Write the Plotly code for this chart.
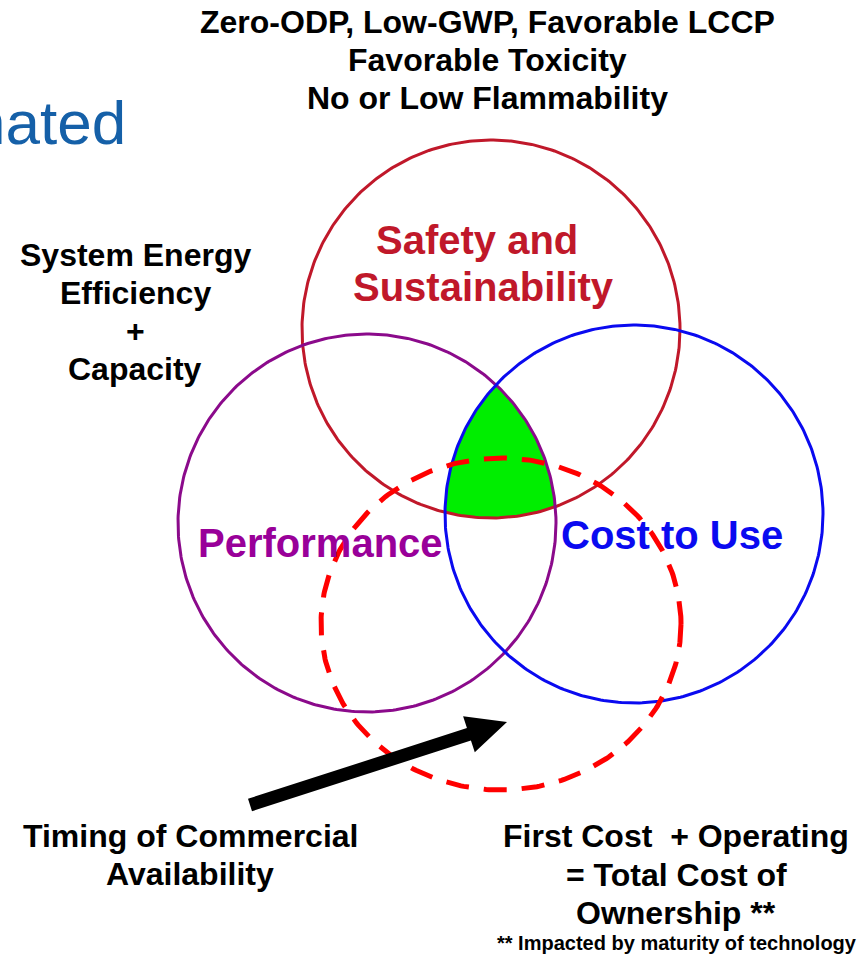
import numpy as np
import plotly.graph_objects as go

# ---- data ----
circle_names = ["Safety and Sustainability", "Performance", "Cost to Use"]
circle_cx = [491, 367, 634]
circle_cy = [329, 523, 514]
circle_r = [189, 189, 189]
circle_colors = ["#C0182A", "#8B0A8B", "#0A0AF0"]

timing_cx, timing_cy = 501, 624
timing_rx, timing_ry = 180, 166

arrow_tail = (250, 805)
arrow_tip = (507, 722)

top_lines = ["Zero-ODP, Low-GWP, Favorable LCCP", "Favorable Toxicity", "No or Low Flammability"]
left_lines = ["System Energy", "Efficiency", "+", "Capacity"]
timing_lines = ["Timing of Commercial", "Availability"]
cost_lines = ["First Cost  + Operating", "= Total Cost of", "Ownership **"]
footnote = "** Impacted by maturity of technology"
header_fragment = "nated"

W, H = 864, 956
fig = go.Figure()

# ---- green intersection region (intersection of three circles) ----
P = np.array([500.0, 460.0])
angs = np.linspace(0, 2 * np.pi, 721)
pts = []
for a in angs:
    u = np.array([np.cos(a), np.sin(a)])
    tmin = 1e9
    for cx, cy, r in zip(circle_cx, circle_cy, circle_r):
        d = P - np.array([cx, cy])
        b = u @ d
        c = d @ d - r * r
        tt = -b + np.sqrt(b * b - c)
        tmin = min(tmin, tt)
    pts.append(P + tmin * u)
pts = np.array(pts)
fig.add_trace(go.Scatter(x=pts[:, 0], y=pts[:, 1], mode="lines", fill="toself",
                         fillcolor="#00EE00", line=dict(width=0, color="#00EE00"),
                         hoverinfo="skip", showlegend=False))

# ---- circles ----
t = np.linspace(0, 2 * np.pi, 400)
for cx, cy, r, col in zip(circle_cx, circle_cy, circle_r, circle_colors):
    fig.add_trace(go.Scatter(x=cx + r * np.cos(t), y=cy + r * np.sin(t), mode="lines",
                             line=dict(color=col, width=3), hoverinfo="skip", showlegend=False))

# dashed timing ellipse
fig.add_trace(go.Scatter(x=timing_cx + timing_rx * np.cos(t), y=timing_cy + timing_ry * np.sin(t),
                         mode="lines", line=dict(color="#FF0000", width=5, dash="23px,15px"),
                         hoverinfo="skip", showlegend=False))

# ---- arrow polygon ----
tail = np.array(arrow_tail, float)
tip = np.array(arrow_tip, float)
v = tip - tail
u = v / np.linalg.norm(v)
n = np.array([-u[1], u[0]])
shaft_w, head_len, head_w = 13, 40, 38
base = tip - head_len * u
poly = np.array([tail + n * shaft_w / 2, base + n * shaft_w / 2, base + n * head_w / 2, tip,
                 base - n * head_w / 2, base - n * shaft_w / 2, tail - n * shaft_w / 2,
                 tail + n * shaft_w / 2])
fig.add_trace(go.Scatter(x=poly[:, 0], y=poly[:, 1], mode="lines", fill="toself",
                         fillcolor="black", line=dict(width=0, color="black"),
                         hoverinfo="skip", showlegend=False))

FONT = "Liberation Sans, Arial, sans-serif"


def add_text(text, x, y, size, color="black", bold=True, xanchor="center"):
    fig.add_annotation(x=x, y=y, xref="x", yref="y", text=("<b>%s</b>" % text) if bold else text,
                       showarrow=False, xanchor=xanchor, yanchor="middle",
                       font=dict(family=FONT, size=size, color=color))


add_text(header_fragment, 128, 122, 62, color="#1560A8", bold=False, xanchor="right")

for i, s in enumerate(top_lines):
    add_text(s, 487, 22 + 38 * i, 32)
for i, s in enumerate(left_lines):
    add_text(s, 135, 255 + 38 * i, 32)
for i, s in enumerate(timing_lines):
    add_text(s, 190, 836 + 38 * i, 32)
for i, s in enumerate(cost_lines):
    add_text(s, 676, 836 + 38.5 * i, 32)
add_text(footnote, 677, 943, 20)

add_text("Safety and", 477, 240, 40, color=circle_colors[0])
add_text("Sustainability", 483, 287, 40, color=circle_colors[0])
add_text(circle_names[1], 320, 543, 40, color="#990099")
add_text(circle_names[2], 672, 535, 40, color="#0A0AF0")

fig.update_xaxes(range=[0, W], visible=False, fixedrange=True)
fig.update_yaxes(range=[H, 0], visible=False, fixedrange=True)
fig.update_layout(width=W, height=H, margin=dict(l=0, r=0, t=0, b=0),
                  paper_bgcolor="white", plot_bgcolor="white", showlegend=False)
fig.write_html("out.html", config={"displayModeBar": False, "staticPlot": True},
               post_script="document.body.style.margin='0px';document.body.style.overflow='hidden';")
